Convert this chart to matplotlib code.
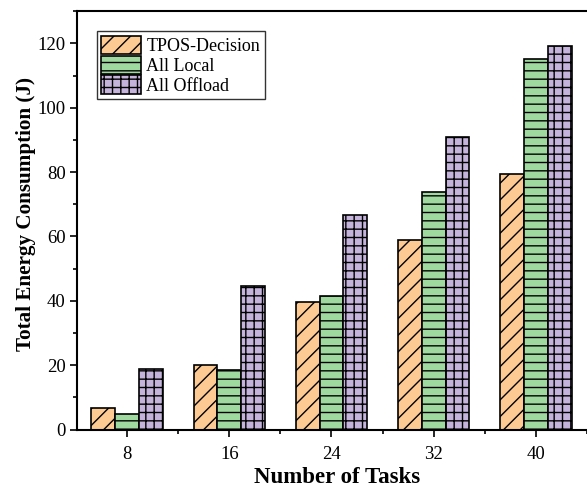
import numpy as np
import matplotlib
matplotlib.use("Agg")
import matplotlib.pyplot as plt
from matplotlib.ticker import MultipleLocator

plt.rcParams['font.family'] = 'Liberation Serif'
plt.rcParams['hatch.linewidth'] = 1.0
plt.rcParams['hatch.color'] = '#222222'

# energy consumption (J) per scheme
tasks = [8, 16, 24, 32, 40]
tpos = [6.8, 20.2, 39.6, 58.9, 79.4]
all_local = [4.7, 18.6, 41.5, 73.8, 115.3]
all_offload = [18.7, 44.5, 66.7, 91.0, 119.2]
labels = ['TPOS-Decision', 'All Local', 'All Offload']

fig = plt.figure(figsize=(5.87, 4.87), dpi=100)
# axes runs past the right edge of the figure
ax = fig.add_axes([0.132, 0.118, 0.885, 0.859])

w = 1.87
x = np.array(tasks, dtype=float)
series = [tpos, all_local, all_offload]
colors = ['#FDCA94', '#9FD99F', '#C4B3DA']
hatches = ['//', '--', '++']
for i, (vals, col, h, lab) in enumerate(zip(series, colors, hatches, labels)):
    ax.bar(x + (i - 1) * w, vals, width=w, color=col, edgecolor='black',
           linewidth=1.2, hatch=h, label=lab, zorder=2)

ax.set_xlim(4.1, 44.8)
ax.set_ylim(0, 130)
ax.set_xticks(tasks)
ax.xaxis.set_minor_locator(MultipleLocator(4))
ax.yaxis.set_major_locator(MultipleLocator(20))
ax.yaxis.set_minor_locator(MultipleLocator(10))
ax.tick_params(which='major', direction='out', length=5, width=1.2, labelsize=13.5)
ax.tick_params(which='minor', direction='out', length=3, width=1.2)
ax.tick_params(axis='x', pad=7)
for s in ['left', 'bottom', 'top', 'right']:
    ax.spines[s].set_linewidth(1.5)

ax.set_xlabel('Number of Tasks', fontsize=16.5, fontweight='bold', labelpad=3)
ax.set_ylabel('Total Energy Consumption (J)', fontsize=15.2, fontweight='bold')
ax.yaxis.set_label_coords(-0.08, 0.515)

leg = ax.legend(loc='upper left', bbox_to_anchor=(0.037, 0.952), fontsize=13,
                fancybox=False, framealpha=1, edgecolor='#333333',
                handlelength=2.2, handleheight=1.2, labelspacing=0.02,
                handletextpad=0.3, borderpad=0.25, borderaxespad=0)
leg.get_frame().set_linewidth(1.0)

fig.savefig('out.png', dpi=100)
